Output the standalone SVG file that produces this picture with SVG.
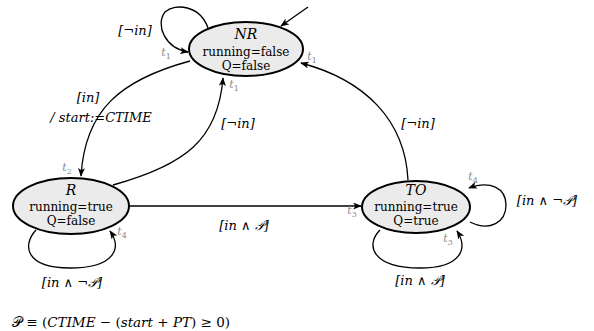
<svg xmlns="http://www.w3.org/2000/svg" width="594" height="331" viewBox="0 0 594 331">
<defs>
<marker id="ah" viewBox="0 0 10 8" refX="9" refY="4" markerWidth="9" markerHeight="7" markerUnits="userSpaceOnUse" orient="auto">
<path d="M0,0 L10,4 L0,8 L2.5,4 z" fill="#000"/>
</marker>
<style>
.st{fill:#ebebeb;stroke:#000;stroke-width:2}
.nm{font-family:"DejaVu Serif","Liberation Serif",serif;font-style:italic;font-size:14px;text-anchor:middle}
.vr{font-family:"DejaVu Serif","Liberation Serif",serif;font-size:12px;text-anchor:middle}
.lb{font-family:"DejaVu Serif","Liberation Serif",serif;font-style:italic;font-size:13px;text-anchor:middle}
.tl{font-family:"DejaVu Serif","Liberation Serif",serif;font-style:italic;font-size:11px;fill:#8a8a8a;text-anchor:middle}
.sb{font-size:8px;font-style:normal}
.ed{fill:none;stroke:#000;stroke-width:1.3;marker-end:url(#ah)}
.fm{font-family:"DejaVu Serif","Liberation Serif",serif;font-size:13.5px}
</style>
</defs>
<g id="connectors">
<path class="ed" d="M308,7 L281,26"/>
<path class="ed" d="M208,28 C200,5 175,3 165,12 C155,25 165,48 188,52"/>
<path class="ed" d="M190,61 C120,80 85,110 81,176"/>
<path class="ed" d="M113,185 C185,165 218,140 223,78"/>
<path class="ed" d="M408,180 C405,120 365,80 301,63"/>
<path class="ed" d="M129,206 L361,206"/>
<path class="ed" d="M36,230 C22,245 25,268 70,268 C115,268 122,248 110,231"/>
<path class="ed" d="M470,222 C490,232 506,222 506,205 C506,188 490,180 469,188"/>
<path class="ed" d="M380,230 C365,245 372,268 420,268 C462,268 468,248 457,231"/>
<text class="lb" x="135" y="35">[¬in]</text>
<text class="lb" x="88" y="102">[in]</text>
<text class="lb" x="101" y="122">/ start:=CTIME</text>
<text class="lb" x="238" y="128">[¬in]</text>
<text class="lb" x="418" y="128">[¬in]</text>
<text class="lb" x="244" y="230">[in ∧ 𝒫]</text>
<text class="lb" x="72" y="287">[in ∧ ¬𝒫]</text>
<text class="lb" x="547" y="205">[in ∧ ¬𝒫]</text>
<text class="lb" x="420" y="285">[in ∧ 𝒫]</text>
<text class="tl" x="166" y="56">t<tspan class="sb" dy="3">1</tspan></text>
<text class="tl" x="234" y="88">t<tspan class="sb" dy="3">1</tspan></text>
<text class="tl" x="312" y="60">t<tspan class="sb" dy="3">1</tspan></text>
<text class="tl" x="67" y="171">t<tspan class="sb" dy="3">2</tspan></text>
<text class="tl" x="122" y="235">t<tspan class="sb" dy="3">4</tspan></text>
<text class="tl" x="352" y="214">t<tspan class="sb" dy="3">3</tspan></text>
<text class="tl" x="473" y="180">t<tspan class="sb" dy="3">4</tspan></text>
<text class="tl" x="448" y="242">t<tspan class="sb" dy="3">3</tspan></text>
</g>
<g id="NR">
<ellipse class="st" cx="246" cy="49" rx="57" ry="27"/>
<text class="nm" x="246" y="39">NR</text>
<text class="vr" x="246" y="56">running=false</text>
<text class="vr" x="246" y="70">Q=false</text>
</g>
<g id="R">
<ellipse class="st" cx="71" cy="206" rx="58" ry="28"/>
<text class="nm" x="71" y="195">R</text>
<text class="vr" x="71" y="211">running=true</text>
<text class="vr" x="71" y="225">Q=false</text>
</g>
<g id="TO">
<ellipse class="st" cx="416" cy="207" rx="54" ry="26"/>
<text class="nm" x="416" y="195">TO</text>
<text class="vr" x="416" y="211">running=true</text>
<text class="vr" x="416" y="225">Q=true</text>
</g>
<text class="fm" x="12" y="327">𝒫 ≡ (<tspan font-style="italic">CTIME</tspan> − (<tspan font-style="italic">start</tspan> + <tspan font-style="italic">PT</tspan>) ≥ 0)</text>
</svg>
